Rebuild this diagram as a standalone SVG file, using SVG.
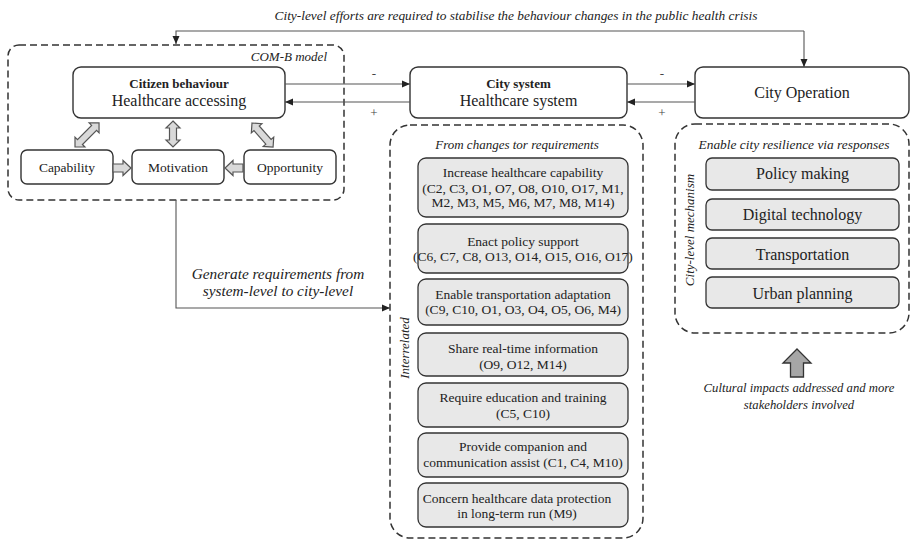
<svg xmlns="http://www.w3.org/2000/svg" width="911" height="541" viewBox="0 0 911 541">
<style>
text{font-family:"Liberation Serif","Times New Roman",serif;fill:#222;text-anchor:middle}
.it{font-style:italic;font-size:13px}
.b{font-weight:bold;font-size:13px}
.n16{font-size:16px}
.n13{font-size:13.5px}
.node{fill:#fff;stroke:#333;stroke-width:1.4}
.gray{fill:#e8e8e8;stroke:#333;stroke-width:1.3}
.dash{fill:none;stroke:#333;stroke-width:1.5;stroke-dasharray:7 4}
.con{fill:none;stroke:#555;stroke-width:1.1}
.blk{fill:#d9d9d9;stroke:#555;stroke-width:1.2}
.sign{font-size:13px;fill:#444}
</style>
<defs>
<marker id="ah" viewBox="0 0 8 8" refX="8" refY="4" markerWidth="8" markerHeight="8" markerUnits="userSpaceOnUse" orient="auto">
<path d="M0,0.5 L8,4 L0,7.5 Z" fill="#222"/>
</marker>
</defs>

<!-- top caption -->
<text class="it" style="font-size:13.35px" x="516" y="20">City-level efforts are required to stabilise the behaviour changes in the public health crisis</text>

<!-- COM-B container -->
<g id="comb">
<rect class="dash" x="8" y="45" width="336" height="155" rx="11"/>
<text class="it" x="327" y="61" style="text-anchor:end">COM-B model</text>
</g>

<g id="citizen">
<rect class="node" x="73" y="67" width="212" height="51" rx="8"/>
<text class="b" x="179" y="88">Citizen behaviour</text>
<text class="n16" x="179" y="106">Healthcare accessing</text>
</g>

<g id="capability">
<rect class="node" x="21" y="150" width="92" height="34" rx="6"/>
<text class="n13" x="67" y="172">Capability</text>
</g>
<g id="motivation">
<rect class="node" x="132" y="150" width="92" height="34" rx="6"/>
<text class="n13" x="178" y="172">Motivation</text>
</g>
<g id="opportunity">
<rect class="node" x="244" y="150" width="92" height="34" rx="6"/>
<text class="n13" x="290" y="172">Opportunity</text>
</g>

<g id="citysystem">
<rect class="node" x="410" y="67" width="217" height="51" rx="8"/>
<text class="b" x="518.5" y="88">City system</text>
<text class="n16" x="518.5" y="106">Healthcare system</text>
</g>

<g id="cityoperation">
<rect class="node" x="695" y="67" width="214" height="51" rx="8"/>
<text class="n16" x="802" y="98">City Operation</text>
</g>

<!-- requirements container -->
<g id="requirements">
<rect class="dash" x="390" y="125" width="253" height="413" rx="20"/>
<text class="it" x="517" y="149">From changes tor requirements</text>
<text class="it" transform="translate(409,348) rotate(-90)">Interrelated</text>
</g>

<g id="req1">
<rect class="gray" x="418" y="158" width="210" height="59" rx="8"/>
<text class="n13" x="523" y="177">Increase healthcare capability</text>
<text class="n13" x="523" y="193">(C2, C3, O1, O7, O8, O10, O17, M1,</text>
<text class="n13" x="523" y="207">M2, M3, M5, M6, M7, M8, M14)</text>
</g>
<g id="req2">
<rect class="gray" x="418" y="224" width="210" height="49" rx="8"/>
<text class="n13" x="523" y="245.5">Enact policy support</text>
<text class="n13" x="523" y="261">(C6, C7, C8, O13, O14, O15, O16, O17)</text>
</g>
<g id="req3">
<rect class="gray" x="418" y="279" width="210" height="46" rx="8"/>
<text class="n13" x="523" y="298.5">Enable transportation adaptation</text>
<text class="n13" x="523" y="314">(C9, C10, O1, O3, O4, O5, O6, M4)</text>
</g>
<g id="req4">
<rect class="gray" x="418" y="333" width="210" height="43" rx="8"/>
<text class="n13" x="523" y="353">Share real-time information</text>
<text class="n13" x="523" y="368.5">(O9, O12, M14)</text>
</g>
<g id="req5">
<rect class="gray" x="418" y="383" width="210" height="44" rx="8"/>
<text class="n13" x="523" y="402">Require education and training</text>
<text class="n13" x="523" y="418">(C5, C10)</text>
</g>
<g id="req6">
<rect class="gray" x="418" y="433" width="210" height="44" rx="8"/>
<text class="n13" x="523" y="451">Provide companion and</text>
<text class="n13" x="523" y="467">communication assist (C1, C4, M10)</text>
</g>
<g id="req7">
<rect class="gray" x="418" y="483" width="210" height="44" rx="8"/>
<text class="n13" x="517" y="503">Concern healthcare data protection</text>
<text class="n13" x="517" y="518">in long-term run (M9)</text>
</g>

<!-- responses container -->
<g id="responses">
<rect class="dash" x="675" y="124" width="234" height="209" rx="20"/>
<text class="it" style="font-size:13.4px" x="794" y="149">Enable city resilience via responses</text>
<text class="it" transform="translate(694,230) rotate(-90)">City-level mechanism</text>
</g>
<g id="policy">
<rect class="gray" x="706" y="158" width="193" height="32" rx="6"/>
<text class="n16" x="802.5" y="179">Policy making</text>
</g>
<g id="digital">
<rect class="gray" x="706" y="199" width="193" height="31" rx="6"/>
<text class="n16" x="802.5" y="220">Digital technology</text>
</g>
<g id="transport">
<rect class="gray" x="706" y="238" width="193" height="31" rx="6"/>
<text class="n16" x="802.5" y="259.5">Transportation</text>
</g>
<g id="urban">
<rect class="gray" x="706" y="277" width="193" height="31" rx="6"/>
<text class="n16" x="802.5" y="298.5">Urban planning</text>
</g>

<g id="cultural">
<polygon points="797,349 811,363 803.5,363 803.5,377 790.5,377 790.5,363 783,363" fill="#a6a6a6" stroke="#333" stroke-width="1.3"/>
<text class="it" style="font-size:12.7px" x="799" y="392">Cultural impacts addressed and more</text>
<text class="it" style="font-size:12.7px" x="799" y="409">stakeholders involved</text>
</g>

<!-- connectors -->
<g id="connectors">
<polyline class="con" points="804,31 176,31 176,44" marker-end="url(#ah)"/>
<line class="con" x1="804" y1="31" x2="804" y2="67" marker-end="url(#ah)"/>
<line class="con" x1="285" y1="84" x2="410" y2="84" marker-end="url(#ah)"/>
<line class="con" x1="410" y1="102" x2="285" y2="102" marker-end="url(#ah)"/>
<line class="con" x1="627" y1="84" x2="695" y2="84" marker-end="url(#ah)"/>
<line class="con" x1="695" y1="102" x2="627" y2="102" marker-end="url(#ah)"/>
<polyline class="con" points="176,200 176,308 390,308" marker-end="url(#ah)"/>
<text class="sign" x="374" y="78">-</text>
<text class="sign" x="374" y="117">+</text>
<text class="sign" x="662" y="78">-</text>
<text class="sign" x="662" y="117">+</text>
<text class="it" style="font-size:15.3px" x="278" y="279">Generate requirements from</text>
<text class="it" style="font-size:15.3px" x="278" y="296">system-level to city-level</text>
<!-- block arrows -->
<polygon class="blk" transform="translate(75,147) rotate(-45)" points="0,0 7,-7 7,-3.5 27,-3.5 27,-7 34,0 27,7 27,3.5 7,3.5 7,7"/>
<polygon class="blk" transform="translate(173,121) rotate(90)" points="0,0 7,-7 7,-3.5 19,-3.5 19,-7 26,0 19,7 19,3.5 7,3.5 7,7"/>
<polygon class="blk" transform="translate(252,123) rotate(48.8)" points="0,0 7,-7 7,-3.5 25,-3.5 25,-7 32,0 25,7 25,3.5 7,3.5 7,7"/>
<polygon class="blk" transform="translate(113,168)" points="0,-4 10,-4 10,-7.5 18,0 10,7.5 10,4 0,4"/>
<polygon class="blk" transform="translate(243,168) rotate(180)" points="0,-4 10,-4 10,-7.5 18,0 10,7.5 10,4 0,4"/>
</g>
</svg>
